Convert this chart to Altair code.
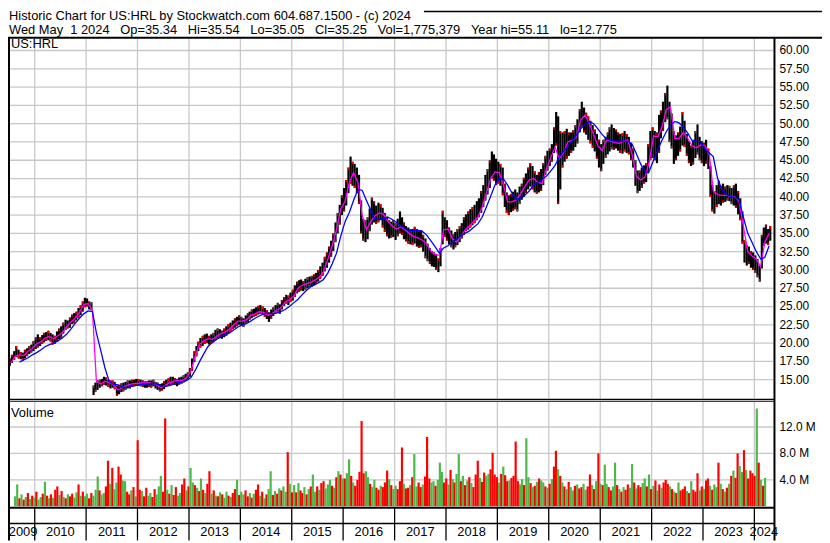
import altair as alt
import pandas as pd

# ---------------- texts ----------------
SP = "\u00a0\u00a0\u00a0"
TITLE_1 = "Historic Chart for US:HRL by Stockwatch.com 604.687.1500 - (c) 2024"
TITLE_2 = ("Wed May\u00a0\u00a01 2024" + SP + "Op=35.34" + SP + "Hi=35.54" + SP + "Lo=35.05"
           + SP + "Cl=35.25" + SP + "Vol=1,775,379" + SP + "Year hi=55.11" + SP + "lo=12.775")
PANEL_LABEL = "US:HRL"
VOL_LABEL = "Volume"

# ---------------- axis ticks ----------------
PRICE_TICKS = [15.0, 17.5, 20.0, 22.5, 25.0, 27.5, 30.0, 32.5, 35.0, 37.5,
               40.0, 42.5, 45.0, 47.5, 50.0, 52.5, 55.0, 57.5, 60.0]
VOL_TICKS = [4, 8, 12]
VOL_TICK_LABELS = ["4.0 M", "8.0 M", "12.0 M"]
YEAR_LINES = ["2010-01-01", "2011-01-01", "2012-01-01", "2013-01-01", "2014-01-01",
              "2015-01-01", "2016-01-01", "2017-01-01", "2018-01-01", "2019-01-01",
              "2020-01-01", "2021-01-01", "2022-01-01", "2023-01-01", "2024-01-01"]
YEAR_LABELS = ["2009", "2010", "2011", "2012", "2013", "2014", "2015", "2016",
               "2017", "2018", "2019", "2020", "2021", "2022", "2023", "2024"]
YEAR_LABEL_AT = ["2009-10-10", "2010-07-02", "2011-07-02", "2012-07-02", "2013-07-02",
                 "2014-07-02", "2015-07-02", "2016-07-02", "2017-07-02", "2018-07-02",
                 "2019-07-02", "2020-07-02", "2021-07-02", "2022-07-02", "2023-07-02",
                 "2024-03-08"]

# ---------------- half-month price ranges (Jul 2009 .. Apr 2024) ----------------
LOW = [
    # 2009 H2
    16.9, 17.3, 17.7, 18.1, 17.9, 17.8, 17.6, 17.9, 18.2, 18.5, 18.7, 18.9,
    # 2010
    19.2, 19.4, 19.6, 19.9, 20.1, 20.3, 20.4, 20.2, 19.8, 19.9, 20.2, 20.5,
    20.6, 21.3, 21.8, 22.0, 22.1, 22.6, 22.7, 23.1, 23.4, 23.8, 24.3, 24.9,
    # 2011
    25.0, 24.6, 24.5, 12.9, 13.3, 13.6, 13.9, 14.1, 14.3, 14.2, 14.0, 13.8,
    13.9, 13.7, 12.8, 13.0, 13.3, 13.4, 13.6, 13.8, 13.8, 14.0, 14.1, 14.2,
    # 2012
    14.2, 14.1, 14.0, 13.9, 13.9, 14.0, 13.9, 14.1, 13.8, 13.6, 13.4, 13.5,
    13.7, 14.0, 14.2, 14.3, 14.4, 14.3, 14.1, 14.3, 14.4, 14.6, 14.8, 15.0,
    # 2013
    15.4, 16.2, 17.4, 18.2, 18.9, 19.4, 19.6, 19.9, 20.0, 19.8, 19.9, 20.1,
    20.4, 20.6, 20.7, 20.6, 20.8, 21.0, 21.3, 21.6, 21.9, 22.1, 22.3, 22.5,
    # 2014
    22.4, 22.2, 22.6, 22.9, 23.2, 23.4, 23.6, 23.7, 23.9, 24.0, 23.9, 23.6,
    23.3, 22.9, 23.3, 23.7, 24.1, 24.3, 24.0, 24.6, 25.1, 25.4, 25.2, 25.6,
    # 2015
    25.8, 26.3, 26.8, 27.0, 27.2, 27.1, 27.3, 27.5, 27.6, 27.7, 27.9, 28.1,
    28.4, 28.8, 29.2, 29.8, 30.3, 31.0, 31.8, 32.6, 33.8, 35.0, 36.2, 37.5,
    # 2016
    38.0, 38.8, 40.5, 41.8, 41.5, 41.2, 40.5, 39.0, 35.0, 34.0, 33.8, 34.2,
    35.3, 36.2, 36.5, 36.3, 36.5, 36.8, 35.8, 35.2, 34.6, 34.3, 34.4, 34.5,
    # 2017
    34.1, 34.6, 35.0, 34.8, 34.2, 33.9, 33.6, 33.5, 33.4, 33.6, 33.2, 33.0,
    33.1, 32.5, 31.6, 31.2, 30.8, 30.5, 30.4, 30.0, 29.7, 30.5, 33.5, 34.5,
    # 2018
    34.0, 33.5, 33.1, 32.8, 33.1, 33.4, 33.8, 34.3, 34.8, 35.3, 35.5, 35.8,
    36.1, 36.4, 36.8, 37.2, 37.8, 38.6, 39.5, 40.3, 41.2, 42.5, 42.2, 41.6,
    # 2019
    41.8, 41.5, 40.2, 38.6, 37.8, 37.5, 37.9, 38.1, 38.3, 38.0, 39.0, 39.6,
    40.0, 40.5, 41.0, 41.4, 41.0, 40.6, 40.4, 40.6, 40.8, 41.6, 43.0, 43.6,
    # 2020
    44.2, 44.8, 46.0, 47.0, 39.0, 41.0, 44.0, 44.8, 45.2, 45.6, 46.0, 46.3,
    46.8, 47.3, 48.8, 49.5, 48.8, 48.5, 47.8, 47.3, 46.7, 46.2, 45.2, 44.0,
    # 2021
    43.5, 44.5, 45.3, 45.8, 46.2, 46.5, 46.4, 46.6, 46.3, 46.0, 45.9, 46.2,
    46.0, 45.8, 45.0, 44.0, 41.5, 40.5, 40.8, 41.2, 41.8, 42.0, 43.2, 45.0,
    # 2022
    45.3, 45.0, 44.6, 46.0, 48.0, 49.0, 50.2, 50.6, 47.5, 46.6, 44.5, 45.0,
    45.6, 46.2, 47.0, 46.8, 45.6, 44.6, 44.2, 44.4, 45.3, 45.8, 45.0, 44.6,
    # 2023
    44.2, 44.5, 43.8, 40.0, 38.0, 37.7, 38.6, 39.0, 38.8, 39.2, 39.3, 39.5,
    39.4, 39.0, 38.8, 38.5, 37.6, 36.8, 33.6, 31.0, 30.6, 30.8, 30.3, 30.0,
    # 2024 Jan-Apr
    29.6, 29.0, 28.4, 30.2, 33.3, 33.6, 33.4, 34.0,
]
HIGH = [
    # 2009 H2
    17.9, 18.4, 18.9, 19.6, 19.1, 18.8, 18.7, 19.1, 19.3, 19.6, 19.8, 20.3,
    # 2010
    20.8, 21.2, 20.8, 21.1, 21.4, 21.5, 21.7, 21.4, 21.2, 21.0, 21.6, 22.0,
    22.3, 22.8, 23.2, 23.1, 23.5, 23.9, 24.1, 24.3, 24.8, 25.2, 25.7, 26.2,
    # 2011
    26.1, 25.7, 25.6, 14.2, 14.6, 14.9, 15.0, 15.1, 15.4, 15.3, 15.0, 14.9,
    14.9, 14.7, 14.2, 14.3, 14.5, 14.6, 14.7, 14.9, 14.9, 15.0, 15.0, 15.1,
    # 2012
    15.1, 15.0, 14.9, 14.8, 14.8, 14.9, 14.9, 15.0, 14.7, 14.6, 14.4, 14.5,
    14.8, 15.0, 15.2, 15.4, 15.4, 15.2, 15.1, 15.3, 15.4, 15.6, 15.8, 16.0,
    # 2013
    16.6, 17.9, 18.9, 19.6, 20.2, 20.7, 21.0, 21.2, 21.3, 21.0, 21.2, 21.4,
    21.8, 22.0, 21.9, 21.7, 22.0, 22.3, 22.6, 22.8, 23.1, 23.4, 23.6, 23.8,
    # 2014
    23.6, 23.4, 23.8, 24.1, 24.3, 24.6, 24.7, 24.9, 25.1, 25.2, 25.0, 24.8,
    24.5, 24.2, 24.6, 24.9, 25.2, 25.5, 25.3, 25.9, 26.3, 26.6, 26.5, 26.9,
    # 2015
    27.3, 27.9, 28.4, 28.6, 28.7, 28.5, 28.8, 29.0, 29.1, 29.2, 29.4, 29.6,
    30.0, 30.5, 31.0, 31.8, 32.4, 33.2, 34.0, 35.0, 36.5, 37.8, 38.9, 40.2,
    # 2016
    41.2, 42.3, 44.0, 45.5, 44.8, 44.5, 44.0, 43.0, 39.5, 37.0, 36.8, 37.2,
    38.4, 39.9, 39.4, 38.8, 39.2, 39.0, 38.5, 37.8, 37.3, 36.8, 36.6, 36.8,
    # 2017
    36.4, 37.0, 38.0, 37.2, 36.5, 36.0, 35.8, 35.6, 35.6, 35.9, 35.6, 35.3,
    35.4, 34.8, 34.3, 33.6, 33.0, 32.6, 32.4, 32.2, 31.6, 33.0, 38.1, 37.2,
    # 2018
    36.8, 35.8, 35.4, 34.9, 35.2, 35.6, 36.0, 36.4, 37.2, 37.6, 38.0, 38.3,
    38.6, 38.9, 39.4, 39.8, 40.8, 41.6, 43.0, 43.8, 45.0, 46.2, 45.8, 45.2,
    # 2019
    44.8, 44.5, 44.0, 41.8, 40.6, 40.2, 40.4, 40.7, 41.0, 40.6, 41.4, 41.8,
    42.6, 43.2, 44.0, 44.6, 44.2, 43.5, 43.0, 43.4, 43.8, 44.6, 45.6, 46.3,
    # 2020
    46.6, 47.2, 49.5, 51.6, 51.0, 49.0, 48.8, 49.0, 49.3, 48.8, 48.8, 49.1,
    49.8, 50.6, 52.0, 53.0, 52.2, 51.5, 51.0, 50.4, 49.8, 49.2, 48.6, 47.8,
    # 2021
    47.2, 47.8, 48.2, 48.8, 49.5, 49.9, 49.4, 49.2, 48.8, 48.6, 48.7, 49.0,
    48.6, 48.2, 47.4, 46.6, 45.0, 43.6, 43.6, 44.0, 44.3, 44.6, 47.2, 49.0,
    # 2022
    49.5, 49.0, 48.8, 51.2, 51.8, 53.0, 54.2, 55.2, 53.0, 51.4, 49.0, 48.4,
    48.8, 49.6, 51.6, 50.4, 48.6, 47.6, 47.0, 47.8, 49.0, 49.9, 48.2, 47.6,
    # 2023
    47.4, 47.8, 46.6, 44.2, 41.6, 40.8, 41.6, 42.2, 41.5, 41.8, 41.4, 41.6,
    41.5, 41.2, 41.6, 41.8, 40.8, 39.8, 38.0, 34.1, 33.4, 33.2, 32.6, 32.4,
    # 2024 Jan-Apr
    32.0, 31.5, 30.6, 34.8, 35.8, 36.2, 35.6, 36.0,
]

# ---------------- half-month volume (millions) and direction ----------------
VOL = [
    1.5, 3.3, 1.2, 1.8, 1.0, 1.4, 2.0, 1.1, 1.6, 1.3, 2.2, 1.0,
    1.4, 1.9, 3.7, 1.6, 1.2, 1.8, 1.3, 2.5, 3.0, 1.7, 2.3, 1.4, 1.2, 1.8, 1.5, 1.9, 1.3, 2.1, 3.3, 1.6, 2.2, 1.5, 1.9, 1.2,
    2.0, 1.6, 2.5, 4.5, 2.4, 1.8, 2.0, 3.0, 6.9, 3.4, 5.8, 2.6, 3.6, 6.0, 4.8, 3.9, 3.8, 2.2, 1.8, 2.4, 2.9, 1.5, 10.0, 2.5,
    2.3, 1.5, 2.8, 1.6, 2.0, 1.4, 2.6, 1.8, 3.0, 4.6, 2.2, 13.3, 2.5, 1.9, 3.2, 1.7, 2.9, 1.6, 2.0, 3.3, 4.2, 2.4, 3.0, 5.8,
    3.6, 3.2, 2.8, 2.3, 4.2, 2.5, 2.0, 3.4, 5.3, 1.9, 2.4, 1.6, 1.5, 2.1, 1.8, 1.3, 2.2, 1.6, 1.4, 2.0, 2.6, 4.0, 1.7, 2.2,
    1.8, 2.4, 1.5, 2.0, 1.3, 1.9, 2.5, 3.3, 1.6, 2.2, 1.2, 1.8, 2.6, 5.3, 1.7, 2.3, 1.9, 2.7, 2.4, 3.0, 2.2, 8.2, 3.4, 2.1,
    3.2, 2.1, 3.5, 2.4, 2.0, 2.9, 1.8, 2.6, 3.0, 4.8, 2.2, 3.0, 2.5, 3.5, 3.8, 2.7, 3.3, 4.0, 3.1, 2.8, 4.4, 5.3, 4.8, 4.2,
    4.2, 5.0, 7.1, 4.6, 3.6, 3.1, 4.0, 5.2, 12.9, 5.0, 5.3, 4.4, 3.4, 2.9, 4.0, 2.8, 2.5, 3.1, 2.9, 3.6, 5.4, 4.1, 3.2, 2.6,
    3.1, 2.6, 3.8, 8.9, 3.4, 2.7, 2.8, 3.2, 4.4, 7.9, 3.0, 3.6, 2.9, 3.3, 4.5, 10.5, 4.2, 3.6, 3.8, 3.1, 4.0, 6.6, 5.2, 3.6,
    4.2, 3.3, 5.5, 4.1, 3.6, 4.9, 7.9, 3.8, 4.6, 3.2, 3.9, 4.4, 3.5, 2.9, 4.8, 6.9, 4.3, 3.7, 5.1, 4.6, 4.9, 5.6, 8.1, 4.8,
    4.4, 3.6, 4.9, 6.0, 4.7, 3.8, 3.9, 4.3, 4.6, 9.8, 3.8, 3.3, 4.1, 3.2, 10.3, 4.4, 3.5, 2.9, 3.1, 3.7, 4.2, 3.9, 3.6, 3.0,
    2.8, 3.4, 4.1, 6.0, 8.4, 5.6, 4.6, 3.6, 3.0, 2.6, 3.7, 2.9, 2.4, 3.1, 3.3, 2.7, 2.9, 3.4, 2.5, 3.0, 4.8, 3.2, 2.6, 3.8,
    8.0, 3.4, 3.2, 6.3, 3.4, 2.9, 2.4, 3.0, 6.6, 3.2, 2.6, 2.2, 2.9, 2.5, 3.3, 2.8, 6.4, 3.6, 2.7, 3.2, 2.9, 3.5, 4.2, 3.0,
    4.8, 2.6, 3.1, 3.9, 2.4, 3.3, 2.8, 3.6, 4.0, 3.4, 3.0, 2.6, 2.2, 2.0, 3.6, 2.4, 2.6, 3.0, 2.3, 2.0, 3.8, 2.5, 2.2, 5.0,
    2.4, 3.0, 2.6, 3.9, 4.2, 3.1, 2.5, 3.3, 2.9, 6.6, 3.4, 2.6, 2.2, 2.8, 3.4, 4.6, 5.4, 4.3, 8.0, 6.1, 5.2, 8.5, 5.5, 4.2,
    5.4, 5.0, 4.6, 14.8, 6.6, 4.0, 3.1, 4.3,
]
VOL_DIR = list(
    "ggrgrgrgrgrg"
    "grgrgrgrrgrgrgrrggrgrggr"
    "rgggrggrrgrggrrggrrgrgrr"
    "grrggrrgggrrgrgrrggrrgrg"
    "grgrgrgrrgrgrgrggrgrrgrg"
    "grrgrgrrgrgrggrgrgrggrgr"
    "grgrrgrgrggrgrrgggrgrgrg"
    "rggrgrrrrrggrggrrgrrrgrg"
    "grrrgrrgrggrrgrrrggrgggr"
    "rgrgrggrgrgrgrrrgrrggrrr"
    "rgrgrrgrrrrggrggrgrgrggr"
    "grgrrgrgrgrggrgrrggrrgrg"
    "rgrggrrggrgrgrrggrgrrggr"
    "grgrgrgrrrgrgrgrrrgrgrrr"
    "grgrrgrggrgrgrgrgrrggrgr"
    "rrrgrgrg"
)

# ---------------- monthly moving averages ----------------
MA_FAST = [
    17.3, 18.2, 18.4, 18.3, 18.9, 19.3,
    19.9, 20.2, 20.7, 20.9, 20.6, 21.0, 21.4, 22.2, 22.9, 23.4, 24.2, 25.3,
    25.4, 24.5, 14.8, 14.4, 14.8, 14.6, 14.3, 13.6, 13.9, 14.2, 14.4, 14.5,
    14.5, 14.7, 14.6, 14.5, 14.3, 13.9, 14.2, 14.6, 14.8, 14.9, 14.9, 15.3,
    16.2, 18.3, 19.8, 20.3, 20.6, 20.5, 20.9, 21.3, 21.5, 21.9, 22.5, 23.0,
    23.0, 23.2, 23.8, 24.0, 24.3, 24.2, 23.8, 24.0, 24.5, 24.8, 25.6, 25.9,
    26.4, 27.5, 27.9, 28.1, 28.3, 28.6, 29.0, 29.8, 31.5, 33.3, 35.5, 38.3,
    39.4, 42.0, 43.3, 42.0, 37.5, 35.5, 36.6, 37.4, 37.8, 37.6, 36.6, 36.0,
    35.6, 35.9, 35.5, 35.0, 34.6, 34.4, 34.1, 33.6, 32.6, 32.1, 32.0, 35.5,
    35.6, 34.3, 33.8, 34.5, 35.4, 36.0, 36.6, 37.2, 38.6, 40.5, 42.5, 43.4,
    43.3, 41.5, 39.3, 39.3, 39.6, 40.4, 41.4, 42.3, 42.5, 42.0, 41.8, 43.8,
    45.3, 46.8, 45.2, 46.0, 47.5, 47.7, 48.2, 50.5, 51.2, 50.0, 48.5, 47.0,
    46.3, 47.8, 47.6, 47.4, 47.3, 47.6, 47.8, 45.8, 42.8, 42.3, 42.7, 44.8,
    48.3, 48.2, 49.5, 51.9, 52.3, 48.0, 48.0, 48.8, 48.0, 47.0, 46.7, 47.1,
    47.0, 45.8, 40.8, 40.3, 40.2, 40.2, 40.1, 40.0, 39.3, 36.0, 32.5, 31.9,
    31.5, 30.4, 33.8, 35.0,
]
MA_SLOW = [
    None, None, 17.4, 17.7, 18.0, 18.4,
    18.7, 19.1, 19.5, 19.8, 20.0, 20.3, 20.7, 21.2, 21.9, 22.7, 23.4, 24.0,
    24.4, 24.3, 21.4, 19.0, 16.6, 14.7, 14.4, 14.3, 14.0, 13.9, 14.1, 14.2,
    14.3, 14.4, 14.4, 14.5, 14.4, 14.2, 14.1, 14.2, 14.4, 14.6, 14.7, 14.9,
    15.3, 16.3, 17.4, 18.5, 19.5, 20.1, 20.5, 20.8, 21.1, 21.4, 21.8, 22.2,
    22.5, 22.7, 23.0, 23.4, 23.7, 24.0, 24.1, 24.0, 24.1, 24.3, 24.6, 25.0,
    25.5, 26.0, 26.6, 27.2, 27.7, 28.0, 28.3, 28.7, 29.6, 30.8, 32.3, 34.6,
    36.6, 37.9, 39.5, 41.0, 40.9, 39.5, 38.2, 36.9, 36.9, 37.0, 37.2, 36.9,
    36.5, 36.0, 35.7, 35.4, 35.4, 35.4, 35.3, 34.8, 34.0, 33.2, 32.3, 33.0,
    33.3, 33.8, 34.2, 34.6, 35.0, 35.3, 35.8, 36.3, 37.2, 38.6, 40.1, 41.6,
    42.5, 42.4, 41.6, 40.5, 39.7, 39.7, 40.2, 40.8, 41.6, 42.0, 42.4, 42.8,
    43.5, 44.3, 45.4, 46.2, 46.9, 47.6, 48.4, 49.3, 49.9, 50.3, 50.0, 49.3,
    48.5, 47.9, 47.7, 47.6, 47.6, 47.6, 47.6, 47.2, 45.9, 44.5, 43.4, 43.5,
    45.0, 46.5, 47.7, 48.9, 49.8, 50.3, 50.1, 49.5, 48.7, 47.7, 47.6, 47.5,
    46.5, 46.0, 45.5, 42.5, 41.0, 40.3, 40.1, 39.9, 39.6, 37.2, 35.0, 33.8,
    32.5, 31.5, 31.7, 33.3,
]

# ---------------- tables ----------------
months = pd.date_range("2009-07-01", periods=len(MA_FAST), freq="MS")
half_dates = []
for m in months:
    half_dates.append((m + pd.Timedelta(days=7)).strftime("%Y-%m-%d"))
    half_dates.append((m + pd.Timedelta(days=22)).strftime("%Y-%m-%d"))

bars = pd.DataFrame({"date": half_dates, "lo": LOW, "hi": HIGH,
                     "vol": VOL, "dir": VOL_DIR})
# red end ticks of the price bars: bottom end on down periods, top end on up periods
bars["t1"] = [lo if d == "r" else hi - 0.35 for lo, hi, d in zip(bars.lo, bars.hi, bars.dir)]
bars["t2"] = [lo + 0.35 if d == "r" else hi for lo, hi, d in zip(bars.lo, bars.hi, bars.dir)]
ma = pd.DataFrame({"date": [(m + pd.Timedelta(days=14)).strftime("%Y-%m-%d") for m in months],
                   "fast": MA_FAST, "slow": MA_SLOW})
ma_slow = ma.dropna(subset=["slow"])
ptick = pd.DataFrame({"p": PRICE_TICKS, "lab": [f"{v:.2f}" for v in PRICE_TICKS]})
vtick = pd.DataFrame({"v": VOL_TICKS, "lab": VOL_TICK_LABELS})
ylines = pd.DataFrame({"date": YEAR_LINES})
ylabels = pd.DataFrame({"date": YEAR_LABEL_AT, "lab": YEAR_LABELS})
one = pd.DataFrame({"k": [0]})

# ---------------- scales ----------------
XS = alt.Scale(domain=[alt.DateTime(year=2010, month=1, date=1, utc=True),
                       alt.DateTime(year=2024, month=1, date=1, utc=True)],
               range=[27, 753.7], nice=False)
PY = alt.Scale(domain=[15, 60], range=[372.7, 40.3], nice=False, zero=False)
VY = alt.Scale(domain=[0, 12], range=[500.5, 420.5], nice=False, zero=False)

FONT = "Liberation Sans"
GRID = "#c8c8c8"
GREEN = "#4cb848"
RED = "#ff0000"


def X(field="date"):
    return alt.X(f"{field}:T", scale=XS, axis=None)


layers = []

# price grid
layers.append(alt.Chart(ptick).mark_rule(color=GRID, strokeWidth=1.3).encode(
    x=alt.value(2), x2=alt.value(773), y=alt.Y("p:Q", scale=PY, axis=None)))
layers.append(alt.Chart(ylines).mark_rule(color=GRID, strokeWidth=1.3).encode(
    x=X(), y=alt.value(28.5), y2=alt.value(392)))
# volume grid
layers.append(alt.Chart(vtick).mark_rule(color=GRID, strokeWidth=1.3).encode(
    x=alt.value(2), x2=alt.value(773), y=alt.Y("v:Q", scale=VY, axis=None)))
layers.append(alt.Chart(ylines).mark_rule(color=GRID, strokeWidth=1.3).encode(
    x=X(), y=alt.value(395), y2=alt.value(501)))

# price bars
layers.append(alt.Chart(bars).mark_rule(color="black", strokeWidth=2.2).encode(
    x=X(), y=alt.Y("lo:Q", scale=PY, axis=None), y2="hi:Q"))
layers.append(alt.Chart(bars).mark_rule(color=RED, strokeWidth=1.2).encode(
    x=X(), y=alt.Y("t1:Q", scale=PY, axis=None), y2="t2:Q"))
# moving averages
layers.append(alt.Chart(ma).mark_line(color="#ff00ff", strokeWidth=1.3).encode(
    x=X(), y=alt.Y("fast:Q", scale=PY, axis=None)))
layers.append(alt.Chart(ma_slow).mark_line(color="#0000ff", strokeWidth=1.3).encode(
    x=X(), y=alt.Y("slow:Q", scale=PY, axis=None)))

# volume bars
layers.append(alt.Chart(bars).mark_bar(width=2.2).encode(
    x=X(), y=alt.Y("vol:Q", scale=VY, axis=None),
    color=alt.Color("dir:N", scale=alt.Scale(domain=["g", "r"], range=[GREEN, RED]), legend=None)))

# frames
def hline(y, x1, x2, w, color="black"):
    return alt.Chart(one).mark_rule(color=color, strokeWidth=w).encode(
        x=alt.value(x1), x2=alt.value(x2), y=alt.value(y))


def vline(x, y1, y2, w, color="black"):
    return alt.Chart(one).mark_rule(color=color, strokeWidth=w).encode(
        x=alt.value(x), y=alt.value(y1), y2=alt.value(y2))


layers += [
    hline(0.8, 420, 822, 1.5),
    hline(27.5, 0, 822, 2),
    hline(392.5, 0, 774, 1.2),
    hline(394.5, 0, 774, 1.2),
    hline(502, 0, 774, 2),
    hline(518, 0, 774, 1.5),
    vline(1, 27, 535, 2),
    vline(774, 27, 535, 2),
]
layers.append(alt.Chart(ylines).mark_rule(color="black", strokeWidth=1.3).encode(
    x=X(), y=alt.value(502), y2=alt.value(535)))

# texts
def label(txt, x, y, size=13):
    return alt.Chart(one).mark_text(align="left", baseline="alphabetic", font=FONT,
                                    fontSize=size, color="black").encode(
        x=alt.value(x), y=alt.value(y), text=alt.value(txt))


layers += [
    label(TITLE_1, 1, 9.5),
    label(TITLE_2, 1, 23.5),
    label(PANEL_LABEL, 3, 38),
    label(VOL_LABEL, 3, 410),
]
layers.append(alt.Chart(ptick).mark_text(align="left", baseline="middle", font=FONT,
                                         fontSize=12, color="black").encode(
    x=alt.value(779), y=alt.Y("p:Q", scale=PY, axis=None), text="lab:N"))
layers.append(alt.Chart(vtick).mark_text(align="left", baseline="middle", font=FONT,
                                         fontSize=12, color="black").encode(
    x=alt.value(779), y=alt.Y("v:Q", scale=VY, axis=None), text="lab:N"))
layers.append(alt.Chart(ylabels).mark_text(align="center", baseline="alphabetic", font=FONT,
                                           fontSize=13, color="black").encode(
    x=X(), y=alt.value(531), text="lab:N"))

chart = alt.layer(*layers).resolve_scale(x="independent", y="independent").properties(
    width=822, height=535, autosize="none", padding=0, background="white"
).configure_view(stroke=None)

chart.save("out.html", embed_options={"renderer": "svg", "actions": False})
